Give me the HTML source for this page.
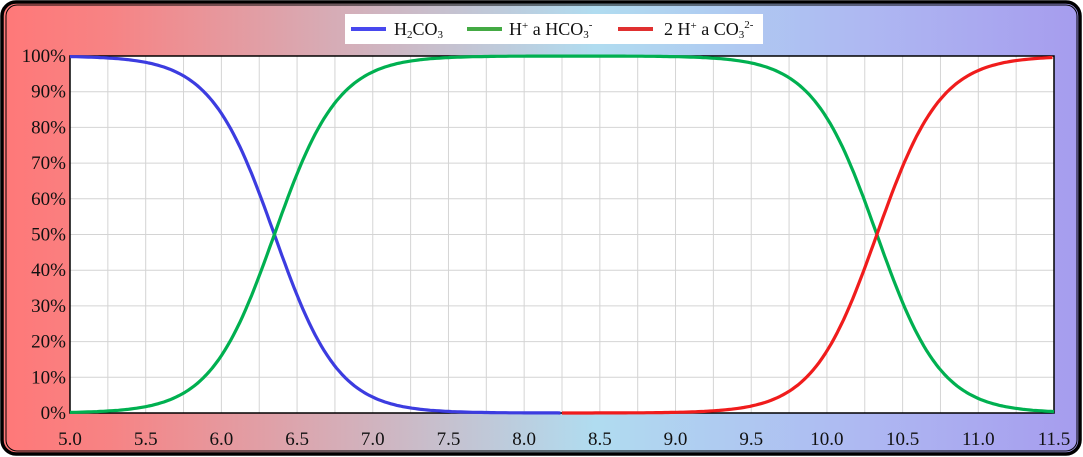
<!DOCTYPE html>
<html><head><meta charset="utf-8"><style>
html,body{margin:0;padding:0;background:#fff}
svg{display:block}
text{font-family:"Liberation Serif",serif;font-size:19px;fill:#111}
</style></head><body>
<svg id="s" width="1083" height="457" viewBox="0 0 1083 457">
<defs><linearGradient id="g" x1="0" x2="1" y1="0" y2="0">
<stop offset="0" stop-color="#ff7878"/><stop offset="0.1" stop-color="#f78384"/><stop offset="0.55" stop-color="#b0dcf0"/><stop offset="0.8" stop-color="#aeb8f2"/><stop offset="1" stop-color="#a69cee"/></linearGradient></defs>
<rect x="2" y="2" width="1078" height="452" rx="14" fill="url(#g)" stroke="#000" stroke-width="3.5"/>
<rect x="6" y="5" width="1071" height="446" rx="11" fill="none" stroke="#000" stroke-width="1"/>
<rect x="70" y="56" width="984" height="357" fill="#fff"/>
<g id="grid" stroke="#d4d4d4" stroke-width="1"></g>
<rect x="70" y="56" width="984" height="357" fill="none" stroke="#000" stroke-width="1.5"/>
<g id="lab"></g>
<g id="curves" fill="none" stroke-width="3.2" stroke-linejoin="round"></g>
<rect x="345" y="14" width="418" height="30" fill="#fff"/>
<g style="font-size:18px">
<line x1="351" y1="29" x2="386" y2="29" stroke="#4848ee" stroke-width="4"/>
<text x="394" y="35" style="font-size:18px">H<tspan font-size="11" dy="3">2</tspan><tspan dy="-3">CO</tspan><tspan font-size="11" dy="3">3</tspan></text>
<line x1="467" y1="29" x2="502" y2="29" stroke="#44aa44" stroke-width="4"/>
<text x="509" y="35" style="font-size:18px">H<tspan font-size="11" dy="-6">+</tspan><tspan dy="6"> a HCO</tspan><tspan font-size="11" dy="3">3</tspan><tspan font-size="11" dy="-10">-</tspan></text>
<line x1="618" y1="29" x2="653" y2="29" stroke="#e03030" stroke-width="4"/>
<text x="664" y="35" style="font-size:18px">2 H<tspan font-size="11" dy="-6">+</tspan><tspan dy="6"> a CO</tspan><tspan font-size="11" dy="3">3</tspan><tspan font-size="11" dy="-10">2-</tspan></text>
</g>
</svg>
<script>
var NS="http://www.w3.org/2000/svg",L=70,R=1054,T=56,B=413;
function X(p){return L+(p-5)/6.5*(R-L)}function Y(v){return B-v*(B-T)}
var g=document.getElementById('grid'),lab=document.getElementById('lab'),c=document.getElementById('curves');
function el(t,a,p,txt){var e=document.createElementNS(NS,t);for(var k in a)e.setAttribute(k,a[k]);if(txt)e.textContent=txt;p.appendChild(e);return e}
for(var i=1;i<26;i++){var x=L+i*(R-L)/26;el('line',{x1:x,x2:x,y1:T,y2:B},g)}
for(var i=1;i<10;i++){var y=T+i*(B-T)/10;el('line',{x1:L,x2:R,y1:y,y2:y},g)}
for(var i=0;i<=10;i++)el('text',{x:66,y:Y(i/10)+6,'text-anchor':'end'},lab,(i*10)+'%');
for(var i=0;i<=13;i++){var p=5+i*0.5;el('text',{x:X(p),y:445,'text-anchor':'middle'},lab,p.toFixed(1))}
var k1=6.35,k2=10.33,n=2.05;
function fr(p){var a=1/(1+Math.pow(10,n*(p-k1))),r=1/(1+Math.pow(10,-n*(p-k2)));return[a,1-a-r,r]}
function path(idx,p0,p1,col){var d='';for(var p=p0;p<=p1+1e-9;p+=0.02){d+=(d?'L':'M')+X(p).toFixed(1)+','+Y(fr(p)[idx]).toFixed(1)}el('path',{d:d,stroke:col},c)}
path(0,5,8.25,'#3c3ce0');path(1,5,11.5,'#00b050');path(2,8.25,11.5,'#f01c1c');
</script>
</body></html>
